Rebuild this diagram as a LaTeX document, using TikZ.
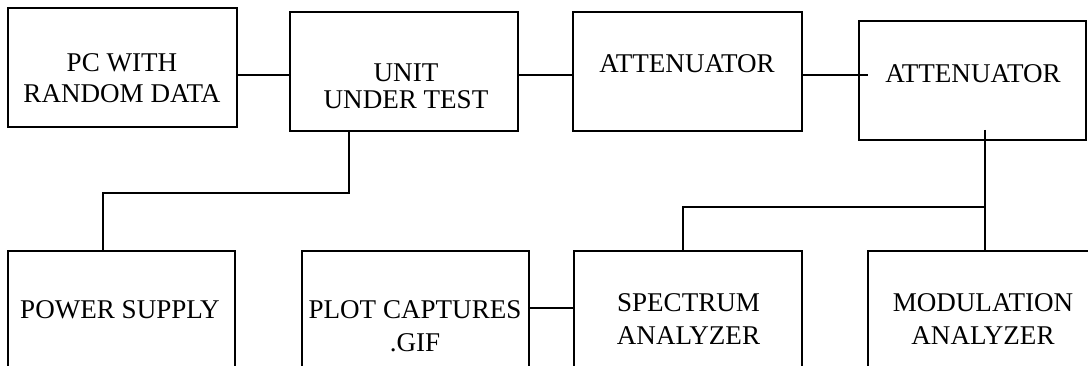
\documentclass[tikz,border=0pt]{standalone}
\usepackage{fontspec}
\setmainfont{Liberation Serif}
\begin{document}
\begin{tikzpicture}[x=0.75pt,y=-0.75pt,
  box/.style={draw,line width=1.4pt,inner sep=0pt,outer sep=0pt,minimum height=119*0.75pt},
  lbl/.style={font=\fontsize{20.3}{24.75}\selectfont,align=center,inner sep=0pt,anchor=north},
  wire/.style={line width=1.4pt}]
\clip (0,0) rectangle (1088,366);
\fill[white] (0,0) rectangle (1088,366);
% boxes
\node[box,minimum width=229*0.75pt] (pc) at (122.5,67.5) {};
\node[box,minimum width=228*0.75pt] (uut) at (404,71.5) {};
\node[box,minimum width=229*0.75pt] (att1) at (687.5,71.5) {};
\node[box,minimum width=227*0.75pt] (att2) at (972.5,80.5) {};
\node[box,minimum width=227*0.75pt] (ps) at (121.5,310.5) {};
\node[box,minimum width=227*0.75pt] (plot) at (415.5,310.5) {};
\node[box,minimum width=228*0.75pt] (spec) at (688,310.5) {};
\node[box,minimum width=228*0.75pt] (mod) at (982,310.5) {};
% texts
\node[lbl,font=\fontsize{20.3}{23.25}\selectfont] (tpc) at (122,53) {PC WITH\\RANDOM DATA};
\node[lbl,font=\fontsize{20.3}{20.25}\selectfont] (tuut) at (406,64) {UNIT\\UNDER TEST};
\node[lbl] (tatt1) at (687,54) {ATTENUATOR};
\node[lbl] (tatt2) at (973,64) {ATTENUATOR};
\node[lbl] (tps) at (120,300) {POWER SUPPLY};
\node[lbl] (tplot) at (415,300) {PLOT CAPTURES\\.GIF};
\node[lbl] (tspec) at (688.5,293) {SPECTRUM\\ANALYZER};
\node[lbl] (tmod) at (983,293) {MODULATION\\ANALYZER};
% connectors
\coordinate (row) at (0,75);
\coordinate (a2in) at (868,75);
\draw[wire] (pc.east |- row) -- (uut.west |- row);
\draw[wire] (uut.east |- row) -- (att1.west |- row);
\draw[wire] (att1.east |- row) -- (a2in);
\coordinate (ub) at (349,193);
\coordinate (px) at (103,0);
\draw[wire] (uut.south -| ub) -- (ub) -| (ps.north -| px);
\coordinate (tap) at (985,130);
\coordinate (br) at (985,207);
\coordinate (sx) at (683,0);
\draw[wire] (tap) -- (mod.north -| tap);
\draw[wire] (br) -| (spec.north -| sx);
\coordinate (low) at (0,308);
\draw[wire] (plot.east |- low) -- (spec.west |- low);
\end{tikzpicture}
\end{document}
